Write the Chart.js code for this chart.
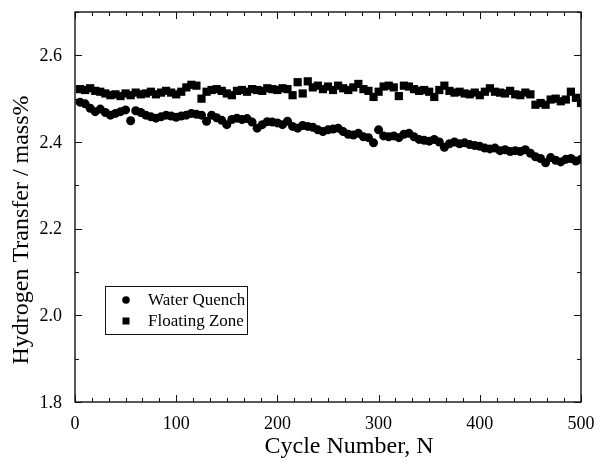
<!DOCTYPE html>
<html>
<head>
<meta charset="utf-8">
<script src="https://cdn.jsdelivr.net/npm/chart.js@4/dist/chart.umd.min.js"></script>
<style>
html,body{margin:0;padding:0;background:#fff;}
#wrap{width:602px;height:463px;position:relative;}
</style>
</head>
<body>
<div id="wrap"><canvas id="c" width="602" height="463"></canvas></div>
<script>
const cycles = [5,10,15,20,25,30,35,40,45,50,55,60,65,70,75,80,85,90,95,100,
105,110,115,120,125,130,135,140,145,150,155,160,165,170,175,180,185,190,195,200,
205,210,215,220,225,230,235,240,245,250,255,260,265,270,275,280,285,290,295,300,
305,310,315,320,325,330,335,340,345,350,355,360,365,370,375,380,385,390,395,400,
405,410,415,420,425,430,435,440,445,450,455,460,465,470,475,480,485,490,495,500];

const waterQuench = [2.492,2.488,2.478,2.470,2.476,2.468,2.462,2.466,2.470,2.474,
2.449,2.472,2.468,2.462,2.458,2.455,2.458,2.462,2.460,2.457,
2.460,2.462,2.466,2.464,2.462,2.448,2.462,2.456,2.450,2.440,
2.452,2.455,2.452,2.454,2.446,2.432,2.440,2.447,2.446,2.444,
2.440,2.448,2.436,2.432,2.438,2.436,2.434,2.428,2.424,2.428,
2.430,2.432,2.424,2.418,2.416,2.420,2.412,2.410,2.398,2.428,
2.414,2.412,2.414,2.410,2.418,2.420,2.412,2.406,2.404,2.402,
2.406,2.400,2.388,2.396,2.400,2.396,2.398,2.394,2.392,2.390,
2.386,2.384,2.386,2.380,2.382,2.378,2.380,2.378,2.382,2.374,
2.366,2.362,2.352,2.364,2.358,2.354,2.360,2.362,2.356,2.360];

const floatingZone = [2.522,2.520,2.524,2.518,2.516,2.512,2.508,2.510,2.506,2.512,
2.508,2.514,2.510,2.512,2.516,2.510,2.514,2.518,2.514,2.510,
2.516,2.526,2.532,2.530,2.500,2.516,2.520,2.522,2.518,2.512,
2.508,2.518,2.520,2.516,2.522,2.520,2.518,2.524,2.522,2.520,
2.524,2.522,2.508,2.538,2.512,2.540,2.526,2.530,2.522,2.528,
2.520,2.530,2.524,2.520,2.526,2.534,2.522,2.518,2.504,2.516,
2.528,2.530,2.526,2.506,2.530,2.528,2.522,2.518,2.520,2.516,
2.504,2.520,2.530,2.518,2.514,2.516,2.512,2.510,2.514,2.508,
2.516,2.524,2.516,2.514,2.512,2.518,2.510,2.508,2.514,2.510,
2.486,2.490,2.486,2.498,2.500,2.494,2.498,2.516,2.502,2.490];

const xTicks = [0,100,200,300,400,500];
const yTicks = [1.8,2.0,2.2,2.4,2.6];
const xMinorStep = 100/6;
const yMinorStep = 0.1;
const seriesLabels = ['Water Quench','Floating Zone'];
const xTitle = 'Cycle Number, N';
const yTitle = 'Hydrogen Transfer / mass%';

const SERIF = '"Liberation Serif", "Times New Roman", serif';

const framePlugin = {
  id: 'frame',
  afterDatasetsDraw(chart) {
    const {ctx, chartArea: a, scales: {x, y}} = chart;
    ctx.save();
    ctx.strokeStyle = '#111';
    ctx.lineWidth = 1.4;
    ctx.strokeRect(a.left, a.top, a.right - a.left, a.bottom - a.top);
    ctx.lineWidth = 1;
    ctx.beginPath();
    for (let i = 0; ; i++) {
      const v = x.min + i * xMinorStep;
      if (v > x.max + 1e-6) break;
      const px = Math.round(x.getPixelForValue(v)) + 0.5;
      const len = (i % 6 === 0) ? 7 : 4;
      ctx.moveTo(px, a.bottom); ctx.lineTo(px, a.bottom - len);
      ctx.moveTo(px, a.top); ctx.lineTo(px, a.top + len);
    }
    for (let i = 0; ; i++) {
      const v = y.min + i * yMinorStep;
      if (v > y.max + 1e-6) break;
      const py = Math.round(y.getPixelForValue(v)) + 0.5;
      const len = (i % 2 === 0) ? 7 : 4;
      ctx.moveTo(a.left, py); ctx.lineTo(a.left + len, py);
      ctx.moveTo(a.right, py); ctx.lineTo(a.right - len, py);
    }
    ctx.stroke();

    // tick labels
    ctx.fillStyle = '#000';
    ctx.font = '18px ' + SERIF;
    ctx.textBaseline = 'middle';
    ctx.textAlign = 'right';
    yTicks.forEach(v => ctx.fillText(v.toFixed(1), a.left - 13, y.getPixelForValue(v) + 1));
    ctx.textAlign = 'center';
    xTicks.forEach(v => ctx.fillText(String(v), x.getPixelForValue(v), a.bottom + 22));

    // axis titles
    ctx.font = '24px ' + SERIF;
    ctx.textAlign = 'center';
    ctx.textBaseline = 'middle';
    ctx.fillText(xTitle, 349, 447);
    ctx.save();
    ctx.translate(22, 230);
    ctx.rotate(-Math.PI / 2);
    ctx.fillText(yTitle, 0, 0);
    ctx.restore();

    // legend box
    const bx = 105, by = 286, bw = 142, bh = 48;
    ctx.fillStyle = '#fff';
    ctx.fillRect(bx, by, bw, bh);
    ctx.lineWidth = 1;
    ctx.strokeStyle = '#111';
    ctx.strokeRect(bx + 0.5, by + 0.5, bw, bh);
    ctx.font = '17px ' + SERIF;
    ctx.textBaseline = 'middle';
    ctx.textAlign = 'left';
    const rows = [by + 14, by + 35];
    chart.data.datasets.forEach((ds, i) => {
      ctx.fillStyle = '#000';
      const mx = bx + 21, my = rows[i];
      if (ds.pointStyle === 'rect') {
        ctx.fillRect(mx - 3.5, my - 3.5, 7, 7);
      } else {
        ctx.beginPath(); ctx.arc(mx, my, 3.8, 0, Math.PI * 2); ctx.fill();
      }
      ctx.fillText(ds.label, bx + 43, my + 1);
    });
    ctx.restore();
  }
};

new Chart(document.getElementById('c'), {
  type: 'scatter',
  data: {
    datasets: [
      {
        label: seriesLabels[0],
        data: cycles.map((c, i) => ({x: c, y: waterQuench[i]})),
        pointStyle: 'circle', pointRadius: 4.5, pointHoverRadius: 4.5,
        backgroundColor: '#000', borderColor: '#000', borderWidth: 0
      },
      {
        label: seriesLabels[1],
        data: cycles.map((c, i) => ({x: c, y: floatingZone[i]})),
        pointStyle: 'rect', pointRadius: 5.8, pointHoverRadius: 5.8,
        backgroundColor: '#000', borderColor: '#000', borderWidth: 0
      }
    ]
  },
  options: {
    responsive: false,
    animation: false,
    events: [],
    layout: {padding: {top: 12, right: 21, left: 0, bottom: 0}},
    plugins: {legend: {display: false}, tooltip: {enabled: false}},
    scales: {
      x: {
        type: 'linear', min: 0, max: 500,
        afterBuildTicks(s) { s.ticks = xTicks.map(v => ({value: v})); },
        afterFit(s) { s.height = 61; },
        grid: {display: false, drawTicks: false},
        border: {display: false},
        ticks: {display: false},
        title: {display: false}
      },
      y: {
        type: 'linear', min: 1.8, max: 2.7,
        afterBuildTicks(s) { s.ticks = yTicks.map(v => ({value: v})); },
        afterFit(s) { s.width = 75; },
        grid: {display: false, drawTicks: false},
        border: {display: false},
        ticks: {display: false},
        title: {display: false}
      }
    }
  },
  plugins: [framePlugin]
});
</script>
</body>
</html>
